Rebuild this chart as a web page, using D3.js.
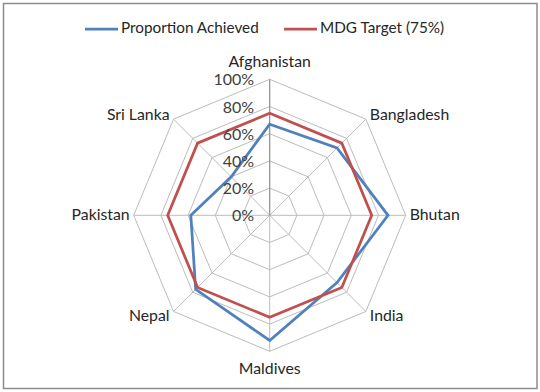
<!DOCTYPE html>
<html><head><meta charset="utf-8">
<script src="https://cdn.jsdelivr.net/npm/d3@7"></script>
<style>
html,body{margin:0;padding:0;background:#fff;}
svg{display:block;font-family:Lato,"Open Sans",sans-serif;}
</style></head>
<body>
<svg id="chart" width="540" height="392"></svg>
<script>
const categories = ["Afghanistan","Bangladesh","Bhutan","India","Maldives","Nepal","Pakistan","Sri Lanka"];
const achieved = [0.67, 0.70, 0.87, 0.70, 0.92, 0.77, 0.58, 0.40];
const target = [0.75, 0.75, 0.75, 0.75, 0.75, 0.75, 0.75, 0.75];
const tickValues = [0, 0.2, 0.4, 0.6, 0.8, 1.0];
const seriesNames = ["Proportion Achieved", "MDG Target (75%)"];
const seriesColors = ["#4F81BD", "#C0504D"];

const svg = d3.select("#chart");
const cx = 269.7, cy = 215.3, R = 136;

svg.append("rect").attr("x", 3.5).attr("y", 3.5).attr("width", 533.5).attr("height", 385)
  .attr("fill", "#fff").attr("stroke", "#8c8c8c").attr("stroke-width", 1.5);

const r = d3.scaleLinear().domain([0, 1]).range([0, R]);
const angle = d3.scalePoint().domain(categories).range([0, 2 * Math.PI * (categories.length - 1) / categories.length]);
const pt = (cat, v) => {
  const a = angle(cat);
  return [cx + r(v) * Math.sin(a), cy - r(v) * Math.cos(a)];
};

const g = svg.append("g");
tickValues.filter(t => t > 0).forEach(t => {
  g.append("path")
    .attr("d", d3.line()(categories.map(c => pt(c, t))) + "Z")
    .attr("fill", "none").attr("stroke", "#bcbcbc").attr("stroke-width", 1);
});
categories.forEach(c => {
  const p = pt(c, 1);
  g.append("line").attr("x1", cx).attr("y1", cy).attr("x2", p[0]).attr("y2", p[1])
    .attr("stroke", "#bcbcbc").attr("stroke-width", 1);
});
g.append("line").attr("x1", cx).attr("y1", cy).attr("x2", cx).attr("y2", cy - r(1))
  .attr("stroke", "#8a8a8a").attr("stroke-width", 1);

const series = [achieved, target];
series.forEach((vals, i) => {
  g.append("path")
    .attr("d", d3.line()(categories.map((c, j) => pt(c, vals[j]))) + "Z")
    .attr("fill", "none").attr("stroke", seriesColors[i]).attr("stroke-width", 2.75)
    .attr("stroke-linejoin", "miter");
});

const fmt = d3.format(".0%");
tickValues.forEach(t => {
  svg.append("text").attr("x", cx - 15.5).attr("y", cy - r(t) + 2)
    .attr("text-anchor", "end").attr("dominant-baseline", "middle")
    .attr("font-size", 16).attr("fill", "#404040").text(fmt(t));
});

categories.forEach(c => {
  const a = angle(c);
  const s = Math.sin(a), co = Math.cos(a);
  const v = pt(c, 1);
  if (Math.abs(s) < 0.01) {
    const y = co > 0 ? v[1] - 12 : v[1] + 23;
    svg.append("text").attr("x", v[0]).attr("y", y).attr("text-anchor", "middle")
      .attr("font-size", 15.8).attr("fill", "#262626").text(c);
    return;
  }
  const anchor = s > 0 ? "start" : "end";
  const x = v[0] + (s > 0 ? 4 : -4);
  const y = v[1] + (Math.abs(co) < 0.01 ? 0.5 : (co > 0 ? -3 : 6));
  svg.append("text").attr("x", x).attr("y", y).attr("text-anchor", anchor)
    .attr("dominant-baseline", "middle")
    .attr("font-size", 15.8).attr("fill", "#262626").text(c);
});

const legendX = [85, 284];
seriesNames.forEach((n, i) => {
  const lg = svg.append("g");
  lg.append("line").attr("x1", legendX[i]).attr("x2", legendX[i] + 33).attr("y1", 29).attr("y2", 29)
    .attr("stroke", seriesColors[i]).attr("stroke-width", 2.75);
  lg.append("text").attr("x", legendX[i] + 36).attr("y", 29.5).attr("dominant-baseline", "middle")
    .attr("font-size", 15.3).attr("fill", "#262626").text(n);
});
</script>
</body></html>
